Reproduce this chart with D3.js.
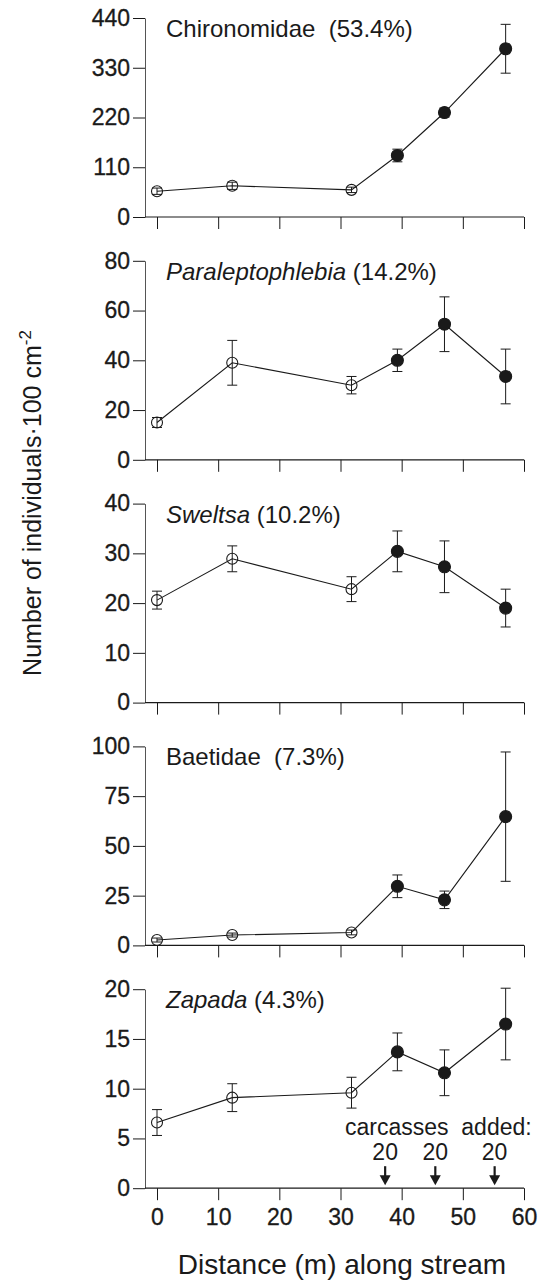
<!DOCTYPE html>
<html>
<head>
<meta charset="utf-8">
<script src="https://cdn.jsdelivr.net/npm/d3@7"></script>
<style>
  body { margin: 0; background: #fff; }
  svg text { font-family: "Liberation Sans", Arial, Helvetica, sans-serif; fill: #1a1a1a; }
</style>
</head>
<body>
<div id="chart"></div>
<script>
// Data
var distance = [0, 12.3, 31.8, 39.3, 47.0, 57.0];
var carcassSite = [false, false, false, true, true, true];

var taxa = ["Chironomidae", "Paraleptophlebia", "Sweltsa", "Baetidae", "Zapada"];
var taxaItalic = [false, true, true, false, true];
var taxaShare = ["(53.4%)", "(14.2%)", "(10.2%)", "(7.3%)", "(4.3%)"];

var chironomidae = [57, 69, 60, 136, 231, 372];
var chironomidaeErr = [7, 8, 6, 14, 10, 54];
var paraleptophlebia = [15, 39, 30, 40, 54.5, 33.5];
var paraleptophlebiaErr = [2, 9, 3.5, 4.5, 11, 11];
var sweltsa = [20.6, 28.9, 22.8, 30.4, 27.3, 19.0];
var sweltsaErr = [1.8, 2.6, 2.5, 4.1, 5.2, 3.8];
var baetidae = [2.7, 5.2, 6.5, 29.7, 22.9, 64.7];
var baetidaeErr = [1, 1, 1.2, 5.7, 4.4, 32.5];
var zapada = [6.6, 9.1, 9.6, 13.7, 11.6, 16.5];
var zapadaErr = [1.3, 1.4, 1.55, 1.9, 2.3, 3.6];

var yMax = [440, 80, 40, 100, 20];
var yTicks = [
  [0, 110, 220, 330, 440],
  [0, 20, 40, 60, 80],
  [0, 10, 20, 30, 40],
  [0, 25, 50, 75, 100],
  [0, 5, 10, 15, 20]
];
var xTicks = [0, 10, 20, 30, 40, 50, 60];

// carcass additions (bottom panel annotation)
var carcassAt = [37.3, 45.5, 55.2];
var carcassCount = [20, 20, 20];

var means = [chironomidae, paraleptophlebia, sweltsa, baetidae, zapada];
var errs = [chironomidaeErr, paraleptophlebiaErr, sweltsaErr, baetidaeErr, zapadaErr];

// Vars for sizing
var width = 546, height = 1281;
var axisX = 145;
var panelTop = 18, panelH = 199, panelStep = 242.8;

var svg = d3.select("#chart")
  .append("svg")
    .attr("width", width)
    .attr("height", height);

var x = d3.scaleLinear()
  .domain([0, 60])
  .range([157, 524]);

var ink = "#1a1a1a";

taxa.forEach(function(name, i) {
  var top = panelTop + i * panelStep;
  var y = d3.scaleLinear()
    .domain([0, yMax[i]])
    .range([top + panelH, top]);

  var g = svg.append("g");

  // Y axis
  var yAxis = g.append("g")
    .attr("transform", "translate(" + axisX + ",0)")
    .call(d3.axisLeft(y).tickValues(yTicks[i]).tickSize(12).tickSizeOuter(0).tickPadding(3));
  yAxis.selectAll("text").style("font-size", "23px").attr("fill", ink)
    .attr("stroke", ink).attr("stroke-width", 0.3);
  yAxis.selectAll("line").attr("stroke", ink);
  yAxis.select(".domain").attr("stroke", "#555");

  // X axis
  var last = i === taxa.length - 1;
  var xAxis = g.append("g")
    .attr("transform", "translate(0," + y(0) + ")")
    .call(d3.axisBottom(x).tickValues(xTicks).tickSize(12).tickSizeOuter(0).tickPadding(8)
      .tickFormat(last ? d3.format("d") : ""));
  xAxis.select(".domain").remove();
  xAxis.selectAll("line").attr("stroke", ink);
  xAxis.selectAll("text").style("font-size", "23px").attr("fill", ink)
    .attr("stroke", ink).attr("stroke-width", 0.3);
  g.append("line")
    .attr("x1", axisX).attr("x2", x(60))
    .attr("y1", y(0)).attr("y2", y(0))
    .attr("stroke", ink).attr("stroke-width", 1.2);

  // Panel title
  var t = g.append("text")
    .attr("x", 166)
    .attr("y", top + 19)
    .style("font-size", "24px");
  t.append("tspan")
    .style("font-style", taxaItalic[i] ? "italic" : "normal")
    .text(name);
  t.append("tspan")
    .text((taxaItalic[i] ? " " : "\u00a0\u00a0") + taxaShare[i]);

  var pts = distance.map(function(d, j) {
    return {x: d, m: means[i][j], e: errs[i][j], filled: carcassSite[j]};
  });

  // Line
  g.append("path")
    .datum(pts)
    .attr("fill", "none")
    .attr("stroke", ink)
    .attr("stroke-width", 1.1)
    .attr("d", d3.line()
      .x(function(d) { return x(d.x); })
      .y(function(d) { return y(d.m); }));

  // Error bars
  var eb = g.append("g").selectAll("g").data(pts).enter().append("g");
  eb.append("line")
    .attr("x1", function(d) { return x(d.x); })
    .attr("x2", function(d) { return x(d.x); })
    .attr("y1", function(d) { return y(d.m - d.e); })
    .attr("y2", function(d) { return y(d.m + d.e); })
    .attr("stroke", ink).attr("stroke-width", 1);
  [-1, 1].forEach(function(s) {
    eb.append("line")
      .attr("x1", function(d) { return x(d.x) - 5; })
      .attr("x2", function(d) { return x(d.x) + 5; })
      .attr("y1", function(d) { return y(d.m + s * d.e); })
      .attr("y2", function(d) { return y(d.m + s * d.e); })
      .attr("stroke", ink).attr("stroke-width", 1);
  });

  // Points
  g.append("g").selectAll("circle")
    .data(pts)
    .enter()
    .append("circle")
      .attr("cx", function(d) { return x(d.x); })
      .attr("cy", function(d) { return y(d.m); })
      .attr("r", function(d) { return d.filled ? 6 : 5.5; })
      .attr("fill", function(d) { return d.filled ? ink : "none"; })
      .attr("stroke", ink)
      .attr("stroke-width", 1.1);

  // Carcass annotation on the bottom panel
  if (last) {
    g.append("text")
      .attr("x", 345)
      .attr("y", top + panelH - 53)
      .style("font-size", "23px")
      .text("carcasses\u00a0\u00a0added:");
    g.append("g").selectAll("text")
      .data(carcassAt)
      .enter()
      .append("text")
        .attr("x", function(d) { return x(d); })
        .attr("y", top + panelH - 28)
        .attr("text-anchor", "middle")
        .style("font-size", "23px")
        .text(function(d, j) { return carcassCount[j]; });
    var ar = g.append("g").selectAll("g").data(carcassAt).enter().append("g");
    ar.append("line")
      .attr("x1", function(d) { return x(d); })
      .attr("x2", function(d) { return x(d); })
      .attr("y1", top + panelH - 22)
      .attr("y2", top + panelH - 10)
      .attr("stroke", ink).attr("stroke-width", 2.2);
    ar.append("path")
      .attr("d", function(d) {
        var cx = x(d), b = top + panelH - 3;
        return "M" + (cx - 5.5) + "," + (b - 10) + "L" + (cx + 5.5) + "," + (b - 10) + "L" + cx + "," + b + "Z";
      })
      .attr("fill", ink);
  }
});

// Axis titles
svg.append("text")
  .attr("x", 342)
  .attr("y", 1274)
  .attr("text-anchor", "middle")
  .style("font-size", "28px")
  .text("Distance (m) along stream");

var yt = svg.append("text")
  .attr("transform", "translate(41,503) rotate(-90)")
  .attr("text-anchor", "middle")
  .style("font-size", "25px");
yt.append("tspan").text("Number of individuals\u00b7100 cm");
yt.append("tspan").attr("dy", -10).style("font-size", "17px").text("-2");
</script>
</body>
</html>
